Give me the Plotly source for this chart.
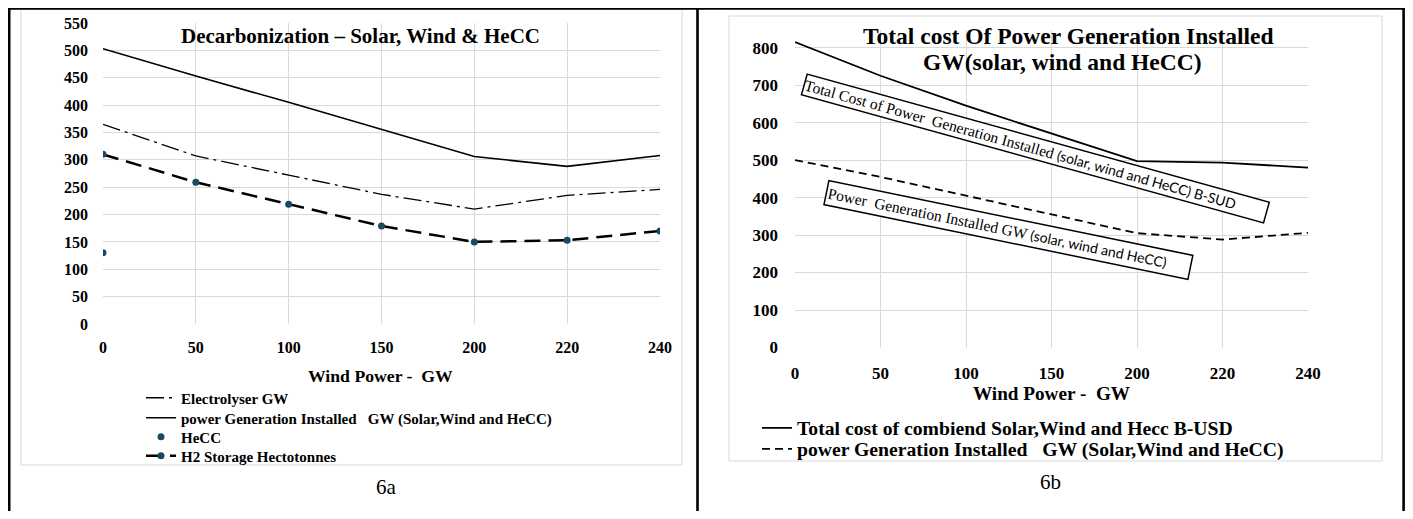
import plotly.graph_objects as go

# ---------------- data ----------------
wind_labels = ["0", "50", "100", "150", "200", "220", "240"]
electrolyser_gw = [365, 307, 272, 237, 210, 235, 246]
power_gen_gw = [503, 453, 405, 355, 306, 288, 308]
hecc = [130, None, None, None, None, None, None]
h2_storage = [310, 259, 219, 179, 150, 153, 170]
total_cost_busd = [815, 725, 645, 570, 497, 493, 480]
power_gen_gw_b = [500, 455, 405, 355, 305, 288, 306]

# page is 1413x519; the html body keeps an 8px margin, so the figure is 16px smaller
M = 8
W, H = 1413 - 2 * M, 519 - 2 * M
def px(x):
    return (x - M) / W
def py(y):
    return 1 - (y - M) / H

SERIF = "Liberation Serif"
TEAL = "#1b4a60"
GRID = "#d9d9d9"
idx = list(range(len(wind_labels)))

fig = go.Figure()

# ---- panel a ----
fig.add_trace(go.Scatter(x=idx, y=electrolyser_gw, mode="lines", name="Electrolyser GW",
                         line=dict(color="black", width=1.3, dash="18px,5px,3px,5px"),
                         xaxis="x", yaxis="y", legend="legend"))
fig.add_trace(go.Scatter(x=idx, y=power_gen_gw, mode="lines",
                         name="power Generation Installed \u00a0 GW (Solar,Wind and HeCC)",
                         line=dict(color="black", width=1.6),
                         xaxis="x", yaxis="y", legend="legend2"))
fig.add_trace(go.Scatter(x=idx, y=hecc, mode="markers", name="HeCC",
                         marker=dict(color=TEAL, size=7),
                         xaxis="x", yaxis="y", legend="legend3"))
fig.add_trace(go.Scatter(x=idx, y=h2_storage, mode="lines+markers", name="H2 Storage Hectotonnes",
                         line=dict(color="black", width=2.5, dash="16px,8px"),
                         marker=dict(color=TEAL, size=7),
                         xaxis="x", yaxis="y", legend="legend4"))

# ---- panel b ----
fig.add_trace(go.Scatter(x=idx, y=total_cost_busd, mode="lines",
                         name="Total cost of combiend Solar,Wind and Hecc B-USD",
                         line=dict(color="black", width=1.8),
                         xaxis="x2", yaxis="y2", legend="legend5"))
fig.add_trace(go.Scatter(x=idx, y=power_gen_gw_b, mode="lines",
                         name="power Generation Installed \u00a0 GW (Solar,Wind and HeCC)",
                         line=dict(color="black", width=1.8, dash="8px,5px"),
                         xaxis="x2", yaxis="y2", legend="legend6"))

axis_common = dict(showgrid=True, gridcolor=GRID, gridwidth=1, zeroline=False,
                   showline=False, ticks="", fixedrange=True, automargin=False)

def leg(x, y, size):
    return dict(x=px(x), y=py(y), xanchor="left", yanchor="middle", bgcolor="rgba(0,0,0,0)",
                borderwidth=0, font=dict(family=SERIF, size=size, color="black", weight="bold"),
                itemwidth=30)

fig.update_layout(
    width=W, height=H,
    margin=dict(l=0, r=0, t=0, b=0, pad=0, autoexpand=False),
    paper_bgcolor="white", plot_bgcolor="white",
    font=dict(family=SERIF, color="black"),
    xaxis=dict(domain=[px(103), px(660)], range=[0, 6], tickvals=idx, ticktext=wind_labels,
               tickfont=dict(size=16, weight="bold"), ticklabelstandoff=12, anchor="y", **axis_common),
    yaxis=dict(domain=[py(324), py(23)], range=[0, 550], dtick=50,
               tickfont=dict(size=16, weight="bold"), ticklabelstandoff=14, anchor="x", **axis_common),
    xaxis2=dict(domain=[px(795), px(1308)], range=[0, 6], tickvals=idx, ticktext=wind_labels,
                tickfont=dict(size=17, weight="bold"), ticklabelstandoff=13, anchor="y2", **axis_common),
    yaxis2=dict(domain=[py(347.5), py(30)], range=[0, 847], dtick=100,
                tickfont=dict(size=17, weight="bold"), ticklabelstandoff=16, anchor="x2", **axis_common),
    legend=leg(141, 398, 15),
    legend2=leg(141, 418, 15),
    legend3=leg(141, 437, 15),
    legend4=leg(141, 456, 15),
    legend5=leg(757, 428, 19.7),
    legend6=leg(757, 449, 19.7),
    showlegend=True,
)

shapes = []
# light grey chart-area boxes
shapes.append(dict(type="rect", xref="paper", yref="paper", x0=px(21), x1=px(682), y0=py(465), y1=py(9),
                   line=dict(color=GRID, width=1), layer="below"))
shapes.append(dict(type="rect", xref="paper", yref="paper", x0=px(729), x1=px(1382), y0=py(461), y1=py(16),
                   line=dict(color=GRID, width=1), layer="below"))
# table borders
for (x0, y0, x1, y1) in [(8, 8.5, 1405, 8.5), (9.2, 8, 9.2, 519), (697.5, 8, 697.5, 519), (1403.6, 8, 1403.6, 519)]:
    shapes.append(dict(type="line", xref="paper", yref="paper", x0=px(x0), y0=py(y0), x1=px(x1), y1=py(y1),
                       line=dict(color="black", width=2.6)))
fig.update_layout(shapes=shapes)

annotations = [
    dict(text="Decarbonization \u2013 Solar, Wind & HeCC", x=px(360), y=py(36),
         font=dict(size=21, weight="bold")),
    dict(text="Total cost Of Power Generation Installed", x=px(1068), y=py(36),
         font=dict(size=23.5, weight="bold")),
    dict(text="GW(solar, wind and HeCC)", x=px(1062), y=py(62),
         font=dict(size=23.5, weight="bold")),
    dict(text="Wind Power - \u00a0GW", x=px(381), y=py(376), font=dict(size=17.7, weight="bold")),
    dict(text="Wind Power - \u00a0GW", x=px(1051), y=py(393), font=dict(size=19.2, weight="bold")),
    dict(text="6a", x=px(386), y=py(487), font=dict(size=21)),
    dict(text="6b", x=px(1050), y=py(482), font=dict(size=21)),
    dict(text="Total Cost of Power \u00a0Generation Installed "
              "<span style='font-family:Lato;font-size:14px'>(solar, wind and HeCC) B-SUD</span>",
         x=px(1035.5), y=py(148), textangle=15.5, font=dict(size=15.5),
         bordercolor="black", borderwidth=1.5, borderpad=0, bgcolor="white",
         width=478, height=20, align="left"),
    dict(text="Power \u00a0Generation Installed GW "
              "<span style='font-family:Lato;font-size:14px'>(solar, wind and HeCC)</span>",
         x=px(1008.5), y=py(229.5), textangle=11.6, font=dict(size=15.5),
         bordercolor="black", borderwidth=1.5, borderpad=1, bgcolor="white",
         width=368, height=21, align="left"),
]
for a in annotations:
    a.setdefault("xref", "paper")
    a.setdefault("yref", "paper")
    a.setdefault("showarrow", False)
    a.setdefault("xanchor", "center")
    a.setdefault("yanchor", "middle")
    f = a["font"]
    f.setdefault("family", SERIF)
    f.setdefault("color", "black")
fig.update_layout(annotations=annotations)

fig.write_html("out.html")
